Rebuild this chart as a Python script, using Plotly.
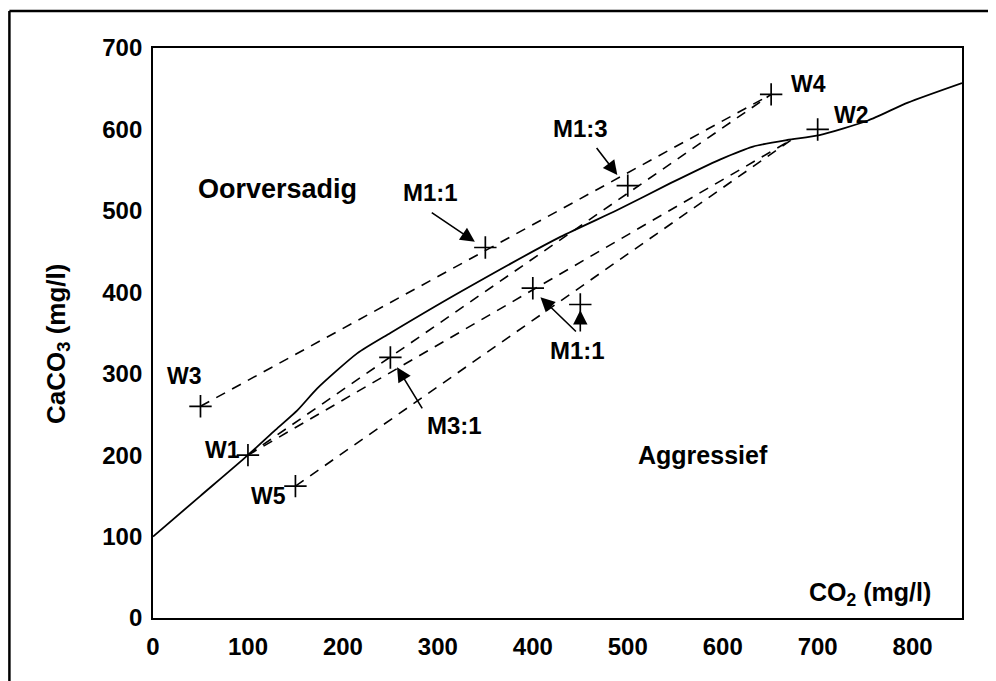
import plotly.graph_objects as go

# ---- data ----
# equilibrium curve (CO2 vs CaCO3, mg/l)
curve_co2 = [0, 50, 100, 129, 152, 173, 215, 250, 323, 429, 489, 545, 597, 632, 668, 702, 753, 795, 852]
curve_caco3 = [100, 150, 200, 231, 255, 282, 325, 350, 400, 468, 501, 534, 563, 579, 587, 593, 611, 633, 657]

# water samples
water_names = ["W1", "W2", "W3", "W4", "W5"]
water_co2 = [100, 700, 50, 651, 150]
water_caco3 = [200, 600, 260, 643, 162]

# mixtures
mix_names = ["M1:1", "M1:3", "M3:1", "M1:1", "M1:1"]
mix_co2 = [350, 500, 250, 400, 450]
mix_caco3 = [455, 531, 320, 405, 385]

# mixing lines (dashed)
line_from_co2 = [50, 100, 100, 150]
line_from_caco3 = [260, 200, 200, 162]
line_to_co2 = [651, 651, 672, 672]
line_to_caco3 = [643, 643, 587, 587]

x_ticks = [0, 100, 200, 300, 400, 500, 600, 700, 800]
y_ticks = [0, 100, 200, 300, 400, 500, 600, 700]

FONT = "Liberation Sans, Arial, Helvetica, sans-serif"

fig = go.Figure()

# mixing lines
for x0, y0, x1, y1 in zip(line_from_co2, line_from_caco3, line_to_co2, line_to_caco3):
    fig.add_trace(go.Scatter(x=[x0, x1], y=[y0, y1], mode="lines",
                             line=dict(color="black", width=1.6, dash="10px,8px"),
                             hoverinfo="skip", showlegend=False))

# equilibrium curve
fig.add_trace(go.Scatter(x=curve_co2, y=curve_caco3, mode="lines",
                         line=dict(color="black", width=1.8, shape="spline", smoothing=0.6),
                         showlegend=False))

# markers
fig.add_trace(go.Scatter(x=water_co2 + mix_co2, y=water_caco3 + mix_caco3, mode="markers",
                         marker=dict(symbol="cross-thin", size=16,
                                     line=dict(color="black", width=1.7)),
                         showlegend=False))

# text labels (positions in data units): text, x, y, font size
labels = [
    ("W3", 33, 297, 23), ("W1", 73, 206, 23), ("W5", 122, 150, 23), ("M3:1", 318, 236, 24),
    ("M1:1", 447, 328, 24), ("M1:1", 292, 523, 24), ("M1:3", 450, 601, 24),
    ("W4", 690, 656, 23), ("W2", 736, 618, 23),
    ("Oorversadig", 131, 527, 27), ("Aggressief", 579, 200, 25),
]
for t, x, y, s in labels:
    fig.add_annotation(x=x, y=y, text=t, showarrow=False, xanchor="center", yanchor="middle",
                       font=dict(family=FONT, size=s, color="black", weight="bold"))

fig.add_annotation(x=821, y=30, text="CO<sub>2</sub> (mg/l)", showarrow=False,
                   xanchor="right", yanchor="middle",
                   font=dict(family=FONT, size=25, color="black", weight="bold"))

fig.add_annotation(xref="paper", yref="paper", x=-0.1187, y=0.4807,
                   text="CaCO<sub>3</sub> (mg/l)", textangle=-90, showarrow=False,
                   xanchor="center", yanchor="middle",
                   font=dict(family=FONT, size=26, color="black", weight="bold"))

# arrows (tail -> head)
arrows = [
    (292, 499, 339, 462), (466, 579, 489, 544), (284.5, 255.5, 257, 308),
    (447, 350, 408, 394), (450, 350, 450, 378),
]
for tx, ty, hx, hy in arrows:
    fig.add_annotation(x=hx, y=hy, ax=tx, ay=ty, axref="x", ayref="y", text="",
                       showarrow=True, arrowhead=2, arrowsize=1.8, arrowwidth=1.6,
                       arrowcolor="black", standoff=0, startstandoff=0)

# outer frame (top and left edges visible)
fig.add_shape(type="line", xref="paper", yref="paper", x0=-0.1775, y0=-0.2, x1=-0.1775, y1=1.065,
              line=dict(color="black", width=2.5))
fig.add_shape(type="line", xref="paper", yref="paper", x0=-0.1775, y0=1.065, x1=1.1, y1=1.065,
              line=dict(color="black", width=2.5))

axis_common = dict(showgrid=False, zeroline=False, showline=True, linecolor="black",
                   linewidth=1.8, mirror=True, ticks="",
                   tickfont=dict(family=FONT, size=24, color="black", weight="bold"))

fig.update_xaxes(range=[0, 852], tickvals=x_ticks, ticktext=[str(v) for v in x_ticks],
                 ticklabelstandoff=6, **axis_common)
fig.update_yaxes(range=[0, 700], tickvals=y_ticks, ticktext=[str(v) for v in y_ticks],
                 ticklabelstandoff=4, **axis_common)

# page has an 8px body margin; margins compensate so the plot sits where the reference has it
fig.update_layout(width=996, height=681, margin=dict(l=145, r=42, t=40, b=71),
                  plot_bgcolor="white", paper_bgcolor="white", showlegend=False)

fig.write_html("out.html")
